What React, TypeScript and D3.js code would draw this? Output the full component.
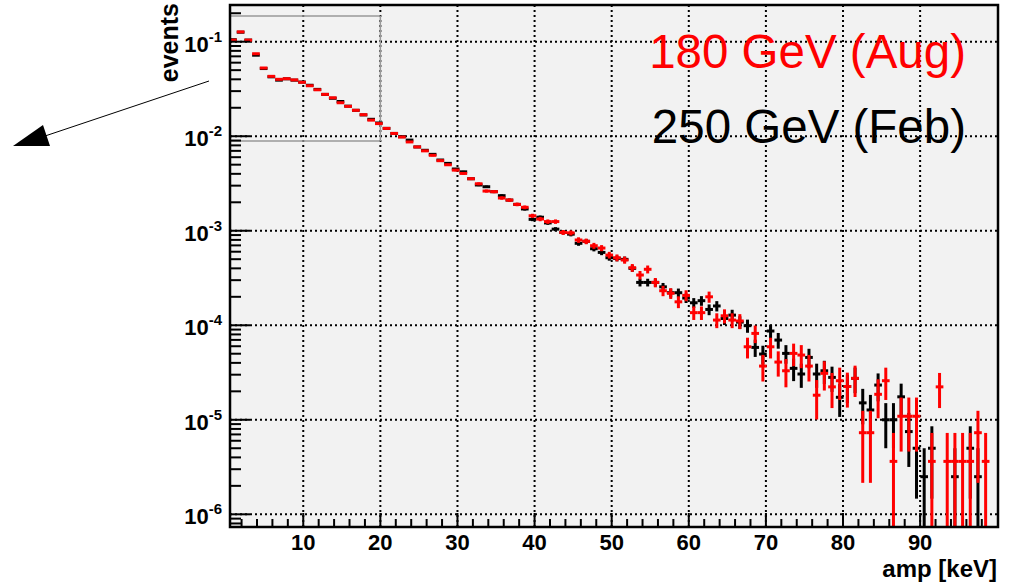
import React from 'react';
import * as d3 from 'd3';

const W = 1011;
const H = 584;
const left = 230, right = 998, top = 5, bottom = 527;

// histogram binning (99 bins)
const binLow = 0.38;
const binWidth = 0.9961;
// normalisation (entries) of each run, used for the poisson error bars
const nAug = 275500;
const nFeb = 400000;

const legendLabels = ['180 GeV (Aug)', '250 GeV (Feb)'];
const xTickLabels = [10, 20, 30, 40, 50, 60, 70, 80, 90];
const yDecades = [-1, -2, -3, -4, -5, -6];

// 180 GeV (Aug) - red
const aug180 = [
  0.104, 0.127, 0.104, 0.0746, 0.0527, 0.043, 0.040, 0.0406, 0.0394, 0.0372,
  0.0342, 0.031, 0.0277, 0.0255, 0.0226, 0.0207, 0.0188, 0.0169, 0.0148, 0.0136,
  0.0121, 0.0107, 0.0098, 0.0087, 0.0077, 0.0070, 0.00628, 0.00551, 0.00499, 0.00438,
  0.00404, 0.00355, 0.00314, 0.00263, 0.00259, 0.00222, 0.00211, 0.0019, 0.00177, 0.00144,
  0.00133, 0.00125, 0.00125, 0.00096, 0.00095, 0.000798, 0.000773, 0.000694, 0.000656, 0.000553,
  5.18e-4, 4.9e-4, 4.06e-4, 3.4e-4, 3.91e-4, 2.84e-4, 2.32e-4, 2.18e-4, 1.77e-4, 2.07e-4,
  1.36e-4, 1.36e-4, 2.0e-4, 1.135e-4, 1.26e-4, 1.135e-4, 1.11e-4, 5.92e-5, 8.2e-5, 3.7e-5,
  5.92e-5, 4.08e-5, 3.3e-5, 5.04e-5, 4.84e-5, 3.7e-5, 1.82e-5, 3.1e-5, 2.23e-5, 2.59e-5,
  2.25e-5, 2.74e-5, 7.3e-6, 7.3e-6, 1.86e-5, 2.59e-5, 3.63e-6, 1.09e-5, 1.09e-5, 1.09e-5,
  0, 3.63e-6, 2.23e-5, 3.63e-6, 3.63e-6, 3.63e-6, 3.63e-6, 7.3e-6, 3.63e-6,
];

// 250 GeV (Feb) - black
const feb250 = [
  0.105, 0.126, 0.104, 0.072, 0.052, 0.0425, 0.0392, 0.0405, 0.0392, 0.0374,
  0.0346, 0.0313, 0.0277, 0.0252, 0.0233, 0.0208, 0.0188, 0.0168, 0.0151, 0.0138,
  0.0121, 0.0107, 0.0099, 0.0091, 0.0077, 0.0071, 0.00643, 0.0056, 0.00516, 0.0045,
  0.0042, 0.00355, 0.00305, 0.00292, 0.00259, 0.00235, 0.00211, 0.0019, 0.0017, 0.00132,
  0.00139, 0.00121, 0.00104, 0.00096, 0.00092, 0.000736, 0.000773, 0.000645, 0.00059, 0.000518,
  5.1e-4, 4.98e-4, 4.0e-4, 2.84e-4, 2.84e-4, 2.84e-4, 2.55e-4, 2.21e-4, 2.21e-4, 1.94e-4,
  1.73e-4, 1.82e-4, 1.47e-4, 1.6e-4, 1.18e-4, 1.28e-4, 1.08e-4, 9.9e-5, 5.83e-5, 4.96e-5,
  8.69e-5, 6.97e-5, 5.04e-5, 3.5e-5, 3.05e-5, 4.57e-5, 3.05e-5, 3.3e-5, 2.81e-5, 1.73e-5,
  2.25e-5, 2.74e-5, 1.51e-5, 1.27e-5, 2.33e-5, 1.0e-5, 1.0e-5, 1.75e-5, 7.5e-6, 5.0e-6,
  2.5e-6, 5.0e-6, 0, 0, 2.5e-6, 0, 5.0e-6, 2.5e-6, 0,
];

const font = "'Liberation Sans', Arial, Helvetica, sans-serif";

function Series({ values, norm, color, x, y }) {
  const yMin = y.domain()[0];
  return (
    <g>
      {values.map((v, i) => {
        if (!(v > 0)) return null;
        const lo = binLow + i * binWidth;
        const c = lo + binWidth / 2;
        const err = Math.sqrt(v / norm);
        const yTop = y(v + err);
        const yBot = v - err > yMin ? y(v - err) : bottom + 5;
        return (
          <g key={i}>
            <line x1={x(c)} x2={x(c)} y1={yTop} y2={yBot} stroke={color} strokeWidth={3} />
            <line x1={x(lo)} x2={x(lo + binWidth)} y1={y(v)} y2={y(v)} stroke={color} strokeWidth={3} />
          </g>
        );
      })}
    </g>
  );
}

export default function App() {
  const x = d3.scaleLinear().domain([0.5, 100.1]).range([left, right]);
  const y = d3.scaleLog().domain([7.34e-7, 0.2445]).range([bottom, top]);

  const minorY = [];
  for (let e = -7; e <= -1; e++) {
    for (let m = 2; m <= 9; m++) {
      const v = m * Math.pow(10, e);
      if (v > y.domain()[0] && v < y.domain()[1]) minorY.push(v);
    }
  }
  const xTicks = d3.range(2, 100, 2);

  return (
    <svg width={W} height={H} style={{ position: 'absolute', left: 0, top: 0, background: '#fff' }}
      fontFamily={font}>
      <defs>
        <clipPath id="plotclip">
          <rect x={left} y={top} width={right - left} height={bottom - top} />
        </clipPath>
      </defs>
      <rect x={left} y={top} width={right - left} height={bottom - top} fill="#f2f2f2" />

      {/* grid */}
      <g stroke="#000" strokeWidth={2} strokeDasharray="2,3">
        {xTickLabels.map(t => (
          <line key={'gx' + t} x1={x(t)} x2={x(t)} y1={top} y2={bottom} />
        ))}
        {yDecades.map(e => (
          <line key={'gy' + e} x1={left} x2={right} y1={y(Math.pow(10, e))} y2={y(Math.pow(10, e))} />
        ))}
      </g>

      {/* zoom box */}
      <g stroke="#999" strokeWidth={1.5} fill="none">
        <line x1={left} x2={x(20)} y1={16} y2={16} />
        <line x1={left} x2={x(20)} y1={141} y2={141} />
        <line x1={x(20)} x2={x(20)} y1={16} y2={141} />
      </g>

      <g clipPath="url(#plotclip)">
        <Series values={feb250} norm={nFeb} color="#000" x={x} y={y} />
        <Series values={aug180} norm={nAug} color="#ff0000" x={x} y={y} />
      </g>

      {/* axis ticks */}
      <g stroke="#000" strokeWidth={2}>
        {minorY.map((v, i) => (
          <line key={'my' + i} x1={left} x2={left + 11} y1={y(v)} y2={y(v)} />
        ))}
        {yDecades.map(e => (
          <line key={'My' + e} x1={left} x2={left + 20} y1={y(Math.pow(10, e))} y2={y(Math.pow(10, e))} />
        ))}
        {xTicks.map(t => (
          <line key={'tx' + t} x1={x(t)} x2={x(t)} y1={bottom} y2={bottom - (t % 10 === 0 ? 14 : 8)} />
        ))}
      </g>

      <rect x={left} y={top} width={right - left} height={bottom - top} fill="none" stroke="#000" strokeWidth={2.5} />

      {/* tick labels */}
      {xTickLabels.map(t => (
        <text key={'lx' + t} x={x(t)} y={550} textAnchor="middle" fontSize={22} fontWeight="bold">{t}</text>
      ))}
      {yDecades.map(e => (
        <text key={'ly' + e} x={222} y={y(Math.pow(10, e)) + 10} textAnchor="end" fontSize={22} fontWeight="bold">
          <tspan>10</tspan>
          <tspan dy={-10} fontSize={15}>{e}</tspan>
        </text>
      ))}

      {/* axis titles */}
      <text x={997} y={577} textAnchor="end" fontSize={24} fontWeight="bold">amp [keV]</text>
      <text transform="translate(178,3) rotate(-90)" textAnchor="end" fontSize={25} fontWeight="bold">events</text>

      {/* legend */}
      <text x={966} y={68} textAnchor="end" fontSize={47.5} fill="#ff0000">{legendLabels[0]}</text>
      <text x={966} y={143} textAnchor="end" fontSize={47.5} fill="#000">{legendLabels[1]}</text>

      {/* arrow */}
      <line x1={209} y1={81} x2={45} y2={136} stroke="#000" strokeWidth={1} />
      <polygon points="13,146 43,125 50,146" fill="#000" />
    </svg>
  );
}
